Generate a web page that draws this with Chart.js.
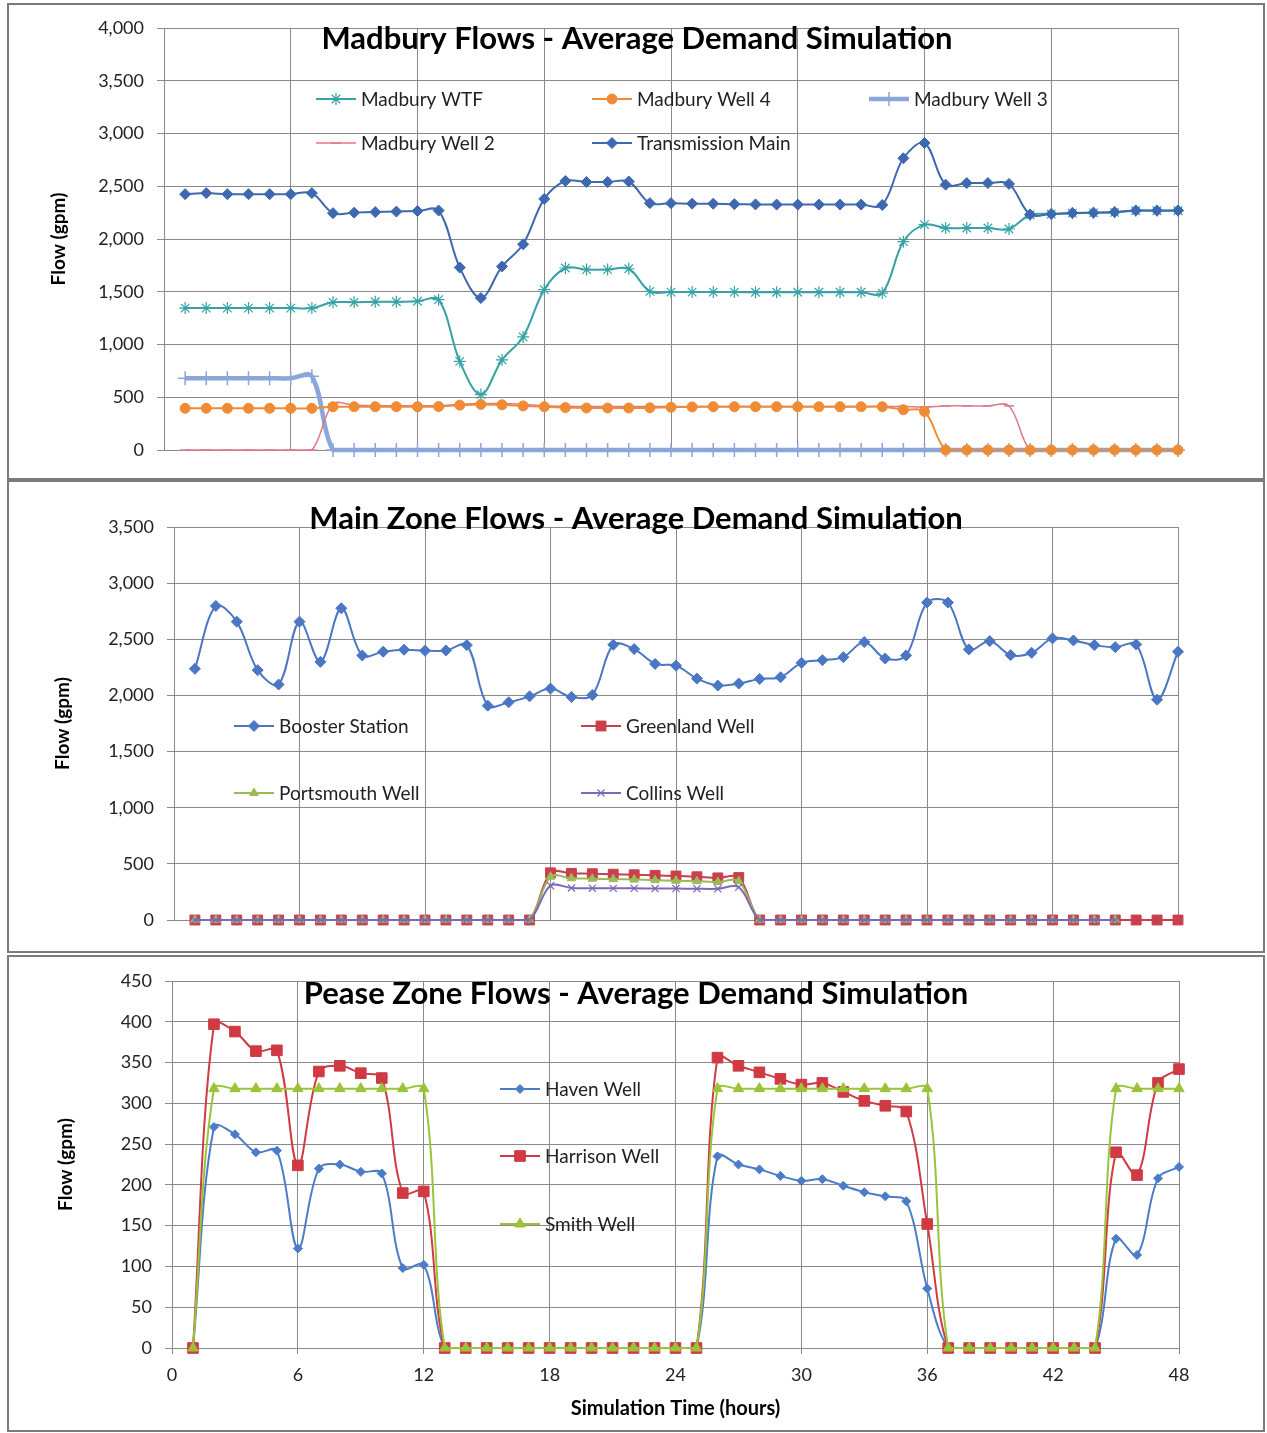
<!DOCTYPE html>
<html><head><meta charset="utf-8">
<script src="https://cdn.jsdelivr.net/npm/chart.js@4.4.1/dist/chart.umd.min.js"></script>
<style>
html,body{margin:0;padding:0;background:#fff;}
body{width:1267px;height:1433px;position:relative;overflow:hidden;}
.frame{position:absolute;left:7px;width:1258px;border:2px solid #7b7b7b;box-sizing:border-box;}
canvas{position:absolute;left:0;z-index:2;}
</style></head><body>
<div class="frame" style="top:3px;height:477px"></div>
<div class="frame" style="top:480px;height:473px"></div>
<div class="frame" style="top:955px;height:477px"></div>
<canvas id="c1" width="1267" height="480" style="top:0px"></canvas>
<canvas id="c2" width="1267" height="475" style="top:480px"></canvas>
<canvas id="c3" width="1267" height="478" style="top:955px"></canvas>
<script>
// ---------- data ----------
const hours = [1,2,3,4,5,6,7,8,9,10,11,12,13,14,15,16,17,18,19,20,21,22,23,24,25,26,27,28,29,30,31,32,33,34,35,36,37,38,39,40,41,42,43,44,45,46,47,48];
const xTicks = [0,6,12,18,24,30,36,42,48];

// Madbury panel
const madburyWTF = [1345,1345,1345,1345,1345,1345,1345,1400,1400,1405,1405,1410,1425,840,525,855,1072,1520,1725,1710,1710,1718,1503,1497,1497,1497,1497,1495,1495,1495,1495,1495,1495,1487,1975,2136,2104,2104,2104,2095,2230,2236,2245,2248,2253,2268,2268,2268];
const madburyWell4 = [395,395,395,395,395,395,395,410,410,410,410,410,412,425,432,428,418,410,402,398,398,398,400,405,408,410,410,410,410,410,410,410,410,410,382,365,0,0,0,0,0,0,0,0,0,0,0,0];
const madburyWell3 = [680,680,680,680,680,680,698,0,0,0,0,0,0,0,0,0,0,0,0,0,0,0,0,0,0,0,0,0,0,0,0,0,0,0,0,0,0,0,0,0,0,0,0,0,0,0,0,0];
const madburyWell2 = [0,0,0,0,0,0,0,435,425,420,420,420,420,432,440,440,432,420,415,412,412,412,412,412,412,412,412,412,412,412,412,412,412,412,412,408,418,418,418,418,0,0,0,0,0,0,0,0];
const transmissionMain = [2425,2435,2425,2425,2425,2425,2435,2245,2250,2255,2260,2265,2270,1730,1440,1740,1950,2380,2550,2540,2540,2545,2340,2340,2335,2335,2330,2328,2326,2326,2326,2326,2326,2322,2765,2910,2515,2530,2530,2522,2232,2238,2247,2250,2255,2270,2270,2270];
const madburyTicks = [0,500,1000,1500,2000,2500,3000,3500,4000];

// Main zone panel
const boosterStation = [2237,2797,2657,2225,2097,2657,2299,2776,2356,2389,2407,2398,2401,2448,1909,1939,1992,2061,1986,2004,2451,2413,2281,2265,2150,2088,2106,2147,2162,2290,2314,2341,2475,2329,2356,2827,2827,2410,2484,2359,2380,2508,2490,2448,2430,2454,1962,2389];
const greenlandWell = [0,0,0,0,0,0,0,0,0,0,0,0,0,0,0,0,0,420,415,412,408,403,398,392,385,375,378,0,0,0,0,0,0,0,0,0,0,0,0,0,0,0,0,0,0,0,0,0];
const portsmouthWell = [0,0,0,0,0,0,0,0,0,0,0,0,0,0,0,0,0,385,372,368,364,360,355,350,345,338,345,0,0,0,0,0,0,0,0,0,0,0,0,0,0,0,0,0,0,null,null,null];
const collinsWell = [0,0,0,0,0,0,0,0,0,0,0,0,0,0,0,0,0,305,285,283,282,282,280,280,278,278,292,0,0,0,0,0,0,0,0,0,0,0,0,0,0,0,0,0,0,null,null,null];
const mainTicks = [0,500,1000,1500,2000,2500,3000,3500];

// Pease zone panel
const havenWell = [0,271,262,240,242,122,220,225,216,214,98,102,0,0,0,0,0,0,0,0,0,0,0,0,0,235,225,219,211,205,207,199,191,186,180,73,0,0,0,0,0,0,0,0,134,114,208,222];
const harrisonWell = [0,397,388,364,365,224,339,346,337,331,190,192,0,0,0,0,0,0,0,0,0,0,0,0,0,356,346,338,330,323,325,314,303,297,290,152,0,0,0,0,0,0,0,0,240,212,325,342];
const smithWell = [0,318,318,318,318,318,318,318,318,318,318,318,0,0,0,0,0,0,0,0,0,0,0,0,0,318,318,318,318,318,318,318,318,318,318,318,0,0,0,0,0,0,0,0,318,318,318,318];
const peaseTicks = [0,50,100,150,200,250,300,350,400,450];

// ---------- styling ----------
const FONT = 'Lato, "Open Sans", sans-serif';
const GRID = '#8a8a8a';
const TXT = '#222';

function pts(vals){ return vals.map((v,i)=>({x:hours[i], y:v})); }

function ds(label, vals, color, o){
  o = o || {};
  return {
    label: label,
    data: pts(vals),
    borderColor: o.line || color,
    backgroundColor: color,
    pointBackgroundColor: color,
    pointBorderColor: color,
    borderWidth: o.lw || 2,
    pointStyle: o.ps || 'circle',
    pointRadius: o.r === undefined ? 5 : o.r,
    pointBorderWidth: o.pbw || 1,
    tension: o.tension === undefined ? 0.35 : o.tension,
    fill: false,
    clip: false,
    spanGaps: false,
    order: o.order || 0
  };
}

function drawMarker(ctx, d, x, y){
  if (!d.pointRadius) return;
  ctx.save();
  ctx.fillStyle = d.pointBackgroundColor;
  ctx.strokeStyle = d.pointBorderColor;
  ctx.lineWidth = d.pointBorderWidth;
  Chart.helpers.drawPoint(ctx, {pointStyle:d.pointStyle, radius:d.pointRadius, borderWidth:d.pointBorderWidth, rotation:0}, x, y);
  ctx.restore();
}

const overlay = {
  id: 'overlay',
  afterDatasetsDraw(chart, args, opts){
    const ctx = chart.ctx;
    ctx.save();
    ctx.font = 'bold ' + opts.titleSize + 'px ' + FONT;
    ctx.fillStyle = '#000';
    ctx.textAlign = 'center';
    ctx.textBaseline = 'middle';
    ctx.fillText(opts.title, opts.titleX, opts.titleY);
    ctx.font = opts.legendSize + 'px ' + FONT;
    ctx.textAlign = 'left';
    ctx.fillStyle = TXT;
    opts.items.forEach(it=>{
      const d = chart.data.datasets[it.i];
      ctx.save();
      ctx.strokeStyle = d.borderColor;
      ctx.lineWidth = d.borderWidth;
      ctx.beginPath(); ctx.moveTo(it.x, it.y); ctx.lineTo(it.x + 40, it.y); ctx.stroke();
      ctx.restore();
      drawMarker(ctx, d, it.x + 20, it.y);
      ctx.fillStyle = TXT;
      ctx.fillText(d.label, it.x + 45, it.y + 1);
    });
    ctx.restore();
  }
};

function make(id, cfg){
  const canvas = document.getElementById(id);
  const H = canvas.height;
  const n = cfg.datasets.length;
  cfg.datasets.forEach((d,i)=>{ if (!d.order) d.order = n - i; });
  return new Chart(canvas, {
    type: 'line',
    data: {datasets: cfg.datasets},
    plugins: [overlay],
    options: {
      responsive: false,
      animation: false,
      devicePixelRatio: 1,
      events: [],
      layout: {padding: {left: 0, top: cfg.top, right: 1267 - cfg.right, bottom: H - cfg.bottom - cfg.xH}},
      plugins: {
        legend: {display: false},
        tooltip: {enabled: false},
        title: {display: false},
        overlay: cfg.overlay
      },
      scales: {
        x: {
          type: 'linear', min: 0, max: 48,
          afterBuildTicks: s => { s.ticks = xTicks.map(v=>({value:v})); },
          ticks: {display: cfg.showX, font: {family: FONT, size: 18}, color: TXT, padding: 10, maxRotation: 0},
          grid: {color: GRID, lineWidth: 1, drawTicks: cfg.showX, tickLength: 6},
          border: {color: GRID, width: 1},
          title: cfg.showX ? {display: true, text: 'Simulation Time (hours)', font: {family: FONT, size: 20, weight: 'bold'}, color: '#000', padding: {top: 0, bottom: 0}} : {display: false},
          afterFit: s => { s.height = cfg.xH; }
        },
        y: {
          min: 0, max: cfg.yTicks[cfg.yTicks.length - 1],
          afterBuildTicks: s => { s.ticks = cfg.yTicks.map(v=>({value:v})); },
          ticks: {font: {family: FONT, size: 18}, color: TXT, padding: 13, callback: v => v.toLocaleString('en-US')},
          grid: {color: GRID, lineWidth: 1, tickLength: 7},
          border: {color: GRID, width: 1},
          title: {display: true, text: 'Flow (gpm)', font: {family: FONT, size: 19, weight: 'bold'}, color: '#000', padding: {top: cfg.yTitlePad, bottom: 0}},
          afterFit: s => { s.width = cfg.left; }
        }
      }
    }
  });
}

// Panel 1: Madbury
make('c1', {
  left: 164, right: 1178, top: 28, bottom: 450, xH: 0, showX: false, yTicks: madburyTicks, yTitlePad: 47,
  datasets: [
    ds('Madbury WTF', madburyWTF, '#35a2a6', {ps: 'star', r: 6, pbw: 1.2, order: 4}),
    ds('Madbury Well 4', madburyWell4, '#ef8b34', {ps: 'circle', r: 5, order: 1}),
    ds('Madbury Well 3', madburyWell3, '#8ba6d8', {ps: 'cross', r: 7, lw: 4.5, pbw: 1.5, order: 5}),
    ds('Madbury Well 2', madburyWell2, '#e0788a', {ps: 'line', r: 5, lw: 1.5, pbw: 1.5, order: 3}),
    ds('Transmission Main', transmissionMain, '#3e68b0', {ps: 'rectRot', r: 5.5, order: 2})
  ],
  overlay: {title: 'Madbury Flows - Average Demand Simulation', titleSize: 31, titleX: 637, titleY: 39, legendSize: 19,
    items: [{i:0,x:316,y:99},{i:1,x:592,y:99},{i:2,x:869,y:99},{i:3,x:316,y:143},{i:4,x:592,y:143}]}
});

// Panel 2: Main Zone
make('c2', {
  left: 174, right: 1178, top: 47, bottom: 440, xH: 0, showX: false, yTicks: mainTicks, yTitlePad: 51,
  datasets: [
    ds('Booster Station', boosterStation, '#4a76c4', {ps: 'rectRot', r: 5.5}),
    ds('Greenland Well', greenlandWell, '#c8404b', {ps: 'rect', r: 7}),
    ds('Portsmouth Well', portsmouthWell, '#9bbb59', {ps: 'triangle', r: 5}),
    ds('Collins Well', collinsWell, '#7a68b8', {ps: 'crossRot', r: 5, pbw: 1.2})
  ],
  overlay: {title: 'Main Zone Flows - Average Demand Simulation', titleSize: 31, titleX: 636, titleY: 39, legendSize: 19,
    items: [{i:0,x:234,y:246},{i:1,x:581,y:246},{i:2,x:234,y:313},{i:3,x:581,y:313}]}
});

// Panel 3: Pease Zone
make('c3', {
  left: 172, right: 1179, top: 26, bottom: 393, xH: 73, showX: true, yTicks: peaseTicks, yTitlePad: 54,
  datasets: [
    ds('Haven Well', havenWell, '#4a7cc8', {ps: 'rectRot', r: 4.5}),
    ds('Harrison Well', harrisonWell, '#d03a44', {ps: 'rect', r: 7.5}),
    ds('Smith Well', smithWell, '#9bc33a', {ps: 'triangle', r: 6})
  ],
  overlay: {title: 'Pease Zone Flows - Average Demand Simulation', titleSize: 31, titleX: 636, titleY: 39, legendSize: 19,
    items: [{i:0,x:500,y:134},{i:1,x:500,y:201},{i:2,x:500,y:269}]}
});
</script>
</body></html>
